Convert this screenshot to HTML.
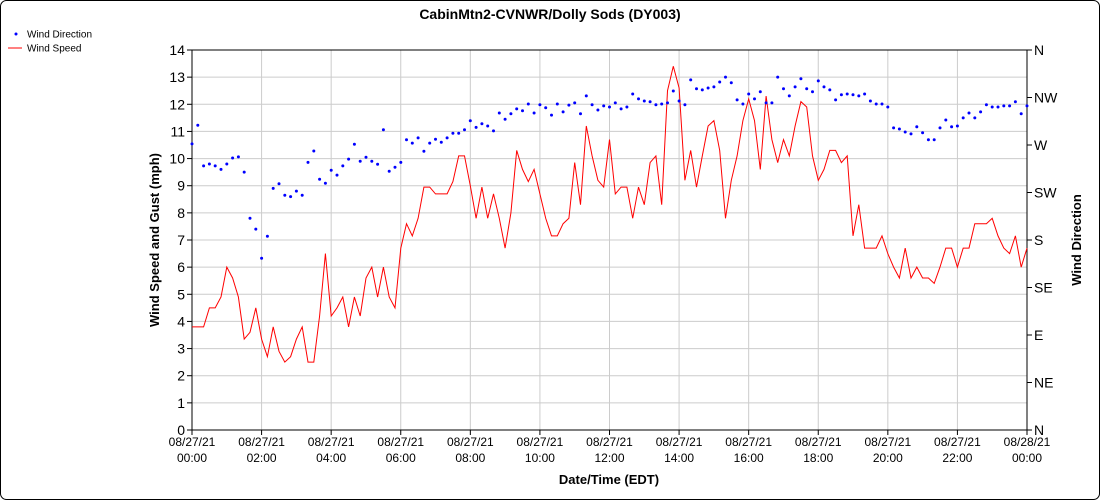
<!DOCTYPE html>
<html><head><meta charset="utf-8"><style>
html,body{margin:0;padding:0;background:#fff;}
svg{display:block;font-family:"Liberation Sans",sans-serif;}
</style></head><body>
<svg id="s" width="1100" height="500" xmlns="http://www.w3.org/2000/svg">
<rect x="0.5" y="0.5" width="1099" height="499" rx="6" fill="#fff" stroke="#000"/>
<text x="550" y="19" text-anchor="middle" font-size="14" font-weight="bold">CabinMtn2-CVNWR/Dolly Sods (DY003)</text>
<circle cx="16" cy="34" r="1.5" fill="#00f"/>
<text x="27" y="37.5" font-size="10">Wind Direction</text>
<line x1="8" y1="48" x2="22" y2="48" stroke="#f00"/>
<text x="27" y="51.5" font-size="10">Wind Speed</text>
<g id="g"></g>
<text transform="translate(159,240) rotate(-90)" text-anchor="middle" font-size="13" font-weight="bold">Wind Speed and Gust (mph)</text>
<text transform="translate(1081,240) rotate(-90)" text-anchor="middle" font-size="13" font-weight="bold">Wind Direction</text>
<text x="609" y="484" text-anchor="middle" font-size="13" font-weight="bold">Date/Time (EDT)</text>
</svg>
<script>
var L=192,R=1027,T=50,B=430,g=document.getElementById('g'),h='';
function Y(v){return B-(B-T)*v/14;}
function X(i){return L+(R-L)*i/144;}
for(var v=0;v<=14;v++){var y=Y(v);h+='<line x1="'+L+'" x2="'+R+'" y1="'+y+'" y2="'+y+'" stroke="#ccc"/>';
h+='<line x1="'+(L-5)+'" x2="'+L+'" y1="'+y+'" y2="'+y+'" stroke="#000"/>';
h+='<text x="'+(L-7)+'" y="'+(y+5)+'" text-anchor="end" font-size="14">'+v+'</text>';}
var dl=['N','NE','E','SE','S','SW','W','NW','N'];
for(var k=0;k<=8;k++){var y=B-(B-T)*k/8;h+='<line x1="'+R+'" x2="'+(R+5)+'" y1="'+y+'" y2="'+y+'" stroke="#000"/>';
h+='<text x="'+(R+7)+'" y="'+(y+5)+'" font-size="14">'+dl[k]+'</text>';}
var xl=['00:00','02:00','04:00','06:00','08:00','10:00','12:00','14:00','16:00','18:00','20:00','22:00','00:00'];
for(var k=0;k<=12;k++){var x=X(k*12);h+='<line x1="'+x+'" x2="'+x+'" y1="'+T+'" y2="'+B+'" stroke="#ccc"/>';
h+='<line x1="'+x+'" x2="'+x+'" y1="'+B+'" y2="'+(B+5)+'" stroke="#000"/>';
h+='<text x="'+x+'" y="'+(B+16)+'" text-anchor="middle" font-size="12">'+(k==12?'08/28/21':'08/27/21')+'</text>';
h+='<text x="'+x+'" y="'+(B+32)+'" text-anchor="middle" font-size="12">'+xl[k]+'</text>';}
h+='<rect x="'+L+'" y="'+T+'" width="'+(R-L)+'" height="'+(B-T)+'" fill="none" stroke="#000"/>';
var sp=[3.8,3.8,3.8,4.5,4.5,4.9,6.0,5.6,4.9,3.35,3.6,4.5,3.35,2.7,3.8,2.9,2.5,2.7,3.35,3.8,2.5,2.5,4.2,6.5,4.2,4.5,4.9,3.8,4.9,4.2,5.6,6.0,4.9,6.0,4.9,4.5,6.7,7.6,7.15,7.8,8.95,8.95,8.7,8.7,8.7,9.15,10.1,10.1,9.0,7.8,8.95,7.8,8.7,7.8,6.7,8.0,10.3,9.6,9.15,9.6,8.7,7.8,7.15,7.15,7.6,7.8,9.85,8.3,11.2,10.1,9.2,8.95,10.7,8.7,8.95,8.95,7.8,8.95,8.3,9.85,10.1,8.3,12.5,13.4,12.6,9.2,10.3,8.95,10.1,11.2,11.4,10.3,7.8,9.2,10.1,11.4,12.2,11.4,9.6,12.3,10.7,9.85,10.7,10.1,11.2,12.1,11.9,10.1,9.2,9.6,10.3,10.3,9.85,10.1,7.15,8.3,6.7,6.7,6.7,7.15,6.5,6.0,5.6,6.7,5.6,6.0,5.6,5.6,5.4,6.0,6.7,6.7,6.0,6.7,6.7,7.6,7.6,7.6,7.8,7.15,6.7,6.5,7.15,6.0,6.7];
var dr=[10.54,11.23,9.73,9.8,9.73,9.6,9.8,10.02,10.06,9.5,7.8,7.4,6.33,7.14,8.9,9.07,8.65,8.6,8.8,8.65,9.86,10.28,9.24,9.09,9.57,9.39,9.73,9.98,10.53,9.9,10.05,9.9,9.79,11.06,9.53,9.68,9.86,10.69,10.57,10.76,10.27,10.57,10.71,10.6,10.76,10.93,10.93,11.06,11.39,11.15,11.28,11.2,11.02,11.68,11.45,11.65,11.83,11.76,12.01,11.68,11.98,11.87,11.6,12.01,11.72,11.97,12.05,11.65,12.31,11.98,11.79,11.94,11.9,12.05,11.83,11.9,12.38,12.2,12.12,12.09,11.98,12.01,12.05,12.49,12.12,11.98,12.9,12.57,12.53,12.6,12.64,12.82,13.0,12.79,12.16,12.01,12.38,12.2,12.46,12.05,12.05,13.0,12.57,12.31,12.64,12.94,12.57,12.46,12.86,12.64,12.53,12.16,12.35,12.38,12.35,12.31,12.38,12.12,12.01,12.01,11.9,11.13,11.09,10.98,10.91,11.17,10.95,10.69,10.69,11.13,11.42,11.17,11.2,11.5,11.68,11.5,11.72,11.98,11.9,11.9,11.94,11.94,12.09,11.65,11.94];
var p='';for(var i=0;i<sp.length;i++)p+=X(i).toFixed(1)+','+Y(sp[i]).toFixed(1)+' ';
h+='<polyline points="'+p+'" fill="none" stroke="#f00" stroke-width="1"/>';
for(var i=0;i<dr.length;i++)h+='<circle cx="'+X(i).toFixed(1)+'" cy="'+Y(dr[i]).toFixed(1)+'" r="1.5" fill="#00f"/>';
g.innerHTML=h;
</script>
</body></html>
